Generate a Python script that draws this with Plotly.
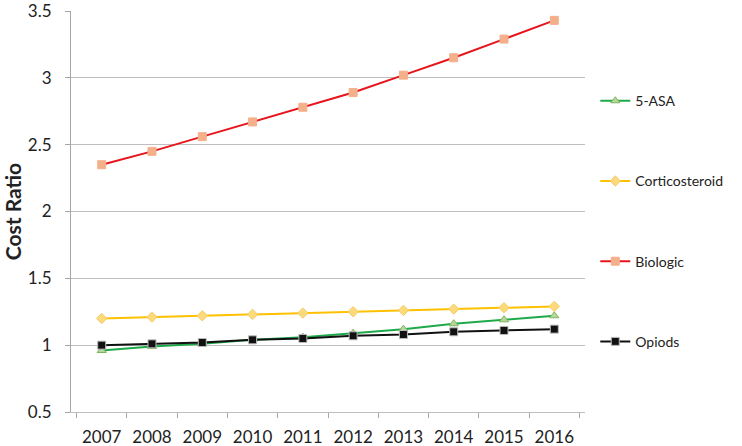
import plotly.graph_objects as go

years = ["2007", "2008", "2009", "2010", "2011", "2012", "2013", "2014", "2015", "2016"]
asa5 = [0.96, 0.99, 1.01, 1.04, 1.06, 1.09, 1.12, 1.16, 1.19, 1.22]
cortico = [1.20, 1.21, 1.22, 1.23, 1.24, 1.25, 1.26, 1.27, 1.28, 1.29]
biologic = [2.35, 2.45, 2.56, 2.67, 2.78, 2.89, 3.02, 3.15, 3.29, 3.43]
opiods = [1.00, 1.01, 1.02, 1.04, 1.05, 1.07, 1.08, 1.10, 1.11, 1.12]
y_ticks = [0.5, 1, 1.5, 2, 2.5, 3, 3.5]
y_ticklabels = ["0.5", "1", "1.5", "2", "2.5", "3", "3.5"]

FONT = "Lato"

fig = go.Figure()
fig.add_trace(go.Scatter(x=years, y=asa5, name="5-ASA", mode="lines+markers",
                         line=dict(color="#1ea94a", width=2),
                         marker=dict(symbol="triangle-up", size=8, color="#b5d89a",
                                     line=dict(color="#7fb35f", width=1)),
                         legendgroup="a"))
fig.add_trace(go.Scatter(x=years, y=cortico, name="Corticosteroid", mode="lines+markers",
                         line=dict(color="#ffc000", width=2),
                         marker=dict(symbol="diamond", size=8, color="#fcd97a",
                                     line=dict(color="#f2ce6a", width=1)),
                         legendgroup="b"))
fig.add_trace(go.Scatter(x=years, y=biologic, name="Biologic", mode="lines+markers",
                         line=dict(color="#e8141b", width=2),
                         marker=dict(symbol="square", size=8, color="#f4b08a",
                                     line=dict(color="#f4b08a", width=1)),
                         legendgroup="c"))
fig.add_trace(go.Scatter(x=years, y=opiods, name="Opiods", mode="lines+markers",
                         line=dict(color="#111111", width=2),
                         marker=dict(symbol="square", size=8, color="#111111",
                                     line=dict(color="#bbbbbb", width=1)),
                         legendgroup="d"))

fig.update_layout(
    width=742, height=446,
    margin=dict(l=71, r=157, t=11, b=34),
    plot_bgcolor="white", paper_bgcolor="white",
    font=dict(family=FONT, size=15, color="#222222"),
    legend=dict(x=1.02, y=0.815, xanchor="left", yanchor="top",
                tracegroupgap=59, font=dict(size=14, family=FONT, color="#222222"),
                itemwidth=30, bgcolor="rgba(0,0,0,0)"),
    xaxis=dict(type="category", tickson="boundaries", ticks="outside", ticklen=5,
               tickcolor="#a6a6a6", showline=True, linecolor="#bfbfbf", showgrid=False,
               tickfont=dict(size=17), automargin=False, ticklabelstandoff=10),
    yaxis=dict(range=[0.5, 3.5], tickvals=y_ticks, ticktext=y_ticklabels,
               showgrid=True, gridcolor="#bfbfbf",
               gridwidth=1, showline=True, linecolor="#a6a6a6", ticks="outside",
               ticklen=5, tickcolor="#a6a6a6", zeroline=False,
               tickfont=dict(size=17), automargin=False, ticklabelstandoff=10,
               ticklabeloverflow="allow",
               title=dict(text="<b>Cost Ratio</b>", font=dict(size=21), standoff=10)),
)

fig.write_html("out.html", post_script="document.body.style.margin='0';",
               config={"displayModeBar": False})
